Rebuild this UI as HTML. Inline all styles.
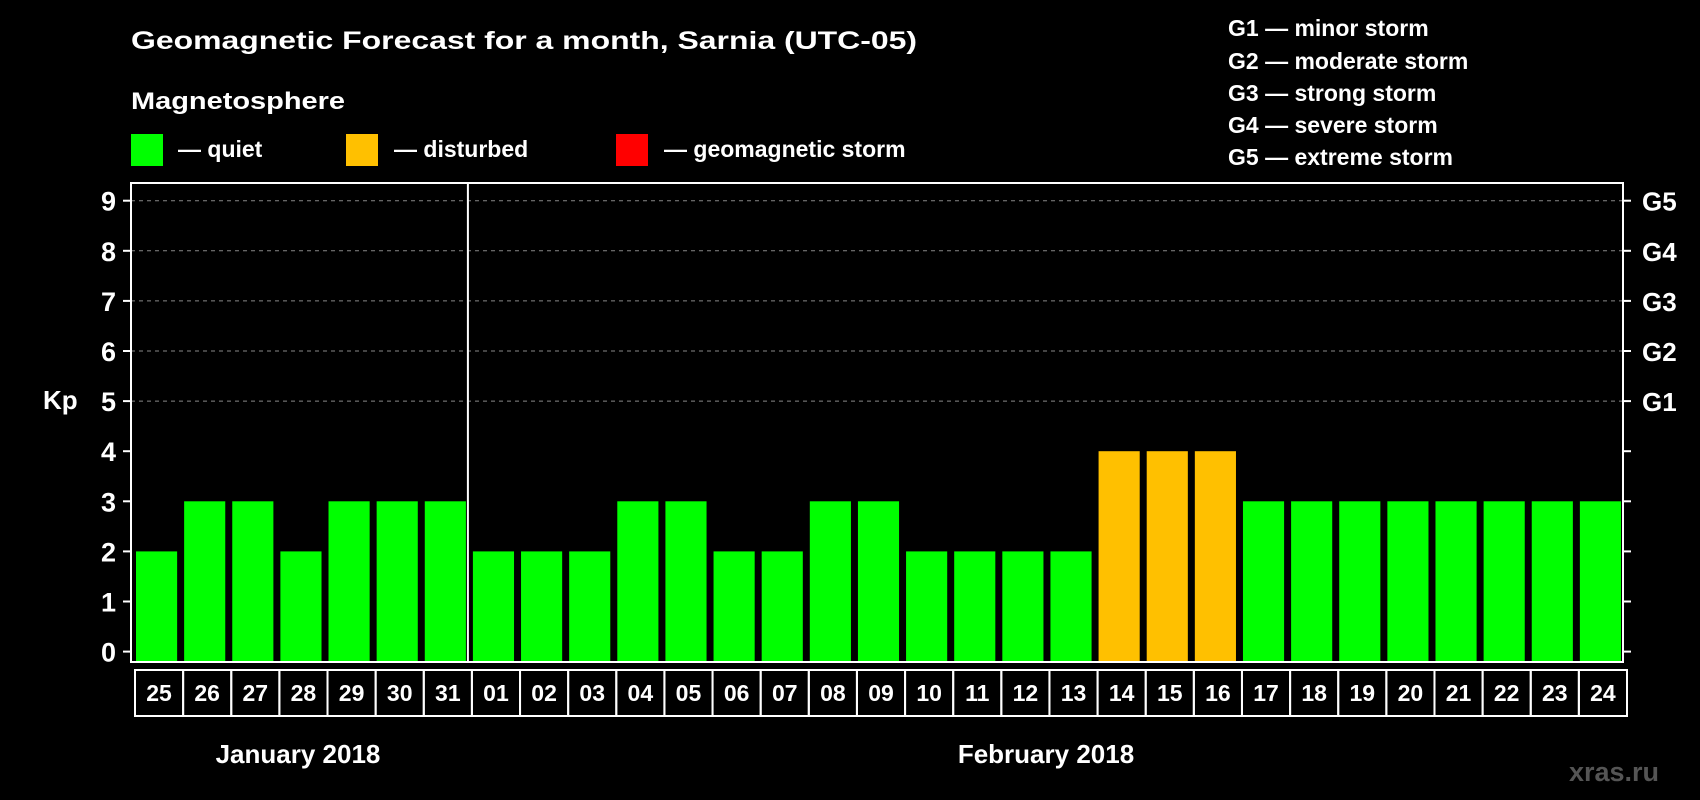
<!DOCTYPE html>
<html><head><meta charset="utf-8"><style>
html,body{margin:0;padding:0;background:#000;}
svg{display:block;font-family:"Liberation Sans",Arial,sans-serif;font-weight:bold;}
</style></head><body>
<svg id="chart" width="1700" height="800" viewBox="0 0 1700 800">
<rect x="0" y="0" width="1700" height="800" fill="#000"/>
<text x="131" y="49" fill="#fff" font-size="25" textLength="786" lengthAdjust="spacingAndGlyphs">Geomagnetic Forecast for a month, Sarnia (UTC-05)</text>
<text x="131" y="109" fill="#fff" font-size="24" textLength="214" lengthAdjust="spacingAndGlyphs">Magnetosphere</text>
<g><rect x="131" y="134" width="32" height="32" fill="#00ff00"/><text x="178" y="157" fill="#fff" font-size="23">— quiet</text></g>
<g><rect x="346" y="134" width="32" height="32" fill="#ffc000"/><text x="394" y="157" fill="#fff" font-size="23">— disturbed</text></g>
<g><rect x="616" y="134" width="32" height="32" fill="#ff0000"/><text x="664" y="157" fill="#fff" font-size="23">— geomagnetic storm</text></g>
<g fill="#fff" font-size="23">
<text x="1228" y="36">G1 — minor storm</text>
<text x="1228" y="69">G2 — moderate storm</text>
<text x="1228" y="101">G3 — strong storm</text>
<text x="1228" y="133">G4 — severe storm</text>
<text x="1228" y="165">G5 — extreme storm</text>
</g>
<text x="43" y="409" fill="#fff" font-size="26">Kp</text>
<text x="298" y="763" fill="#fff" font-size="26" text-anchor="middle">January 2018</text>
<text x="1046" y="763" fill="#fff" font-size="26" text-anchor="middle">February 2018</text>
<text x="1659" y="781" fill="#555" font-size="27" text-anchor="end">xras.ru</text>
<g id="grid"></g><g id="bars"></g><g id="axes"></g>
</svg>
<script>
const days = ["25","26","27","28","29","30","31","01","02","03","04","05","06","07","08","09","10","11","12","13","14","15","16","17","18","19","20","21","22","23","24"];
const kp = [2,3,3,2,3,3,3,2,2,2,3,3,2,2,3,3,2,2,2,2,4,4,4,3,3,3,3,3,3,3,3];
const yTicks = [0,1,2,3,4,5,6,7,8,9];
const gLabels = ["G1","G2","G3","G4","G5"];
const gLevels = [5,6,7,8,9];
const monthBreak = 7;

const NS = "http://www.w3.org/2000/svg";
const L = 131, R = 1623, T = 183, B = 662;
const slot = (R - L) / days.length;
const y = v => 651.6 - v * 50.1;
const x = i => L + i * slot;
function mk(tag, attrs, parent) {
  const e = document.createElementNS(NS, tag);
  for (const k in attrs) e.setAttribute(k, attrs[k]);
  parent.appendChild(e);
  return e;
}
const grid = document.getElementById("grid"), bars = document.getElementById("bars"), axes = document.getElementById("axes");
gLevels.forEach((g, i) => {
  const ln = mk("line", {x1: L, x2: R, y1: y(g), y2: y(g), stroke: "#888", "stroke-dasharray": "4,4", "stroke-width": 1}, grid);
  
  
  const t = mk("text", {x: 1642, y: y(g) + 10, fill: "#fff", "font-size": 26}, axes);
  t.textContent = gLabels[i];
  
  
});
kp.forEach((v, i) => {
  const r = mk("rect", {x: x(i) + 5, y: y(v), width: slot - 7, height: B - y(v), fill: v >= 5 ? "#ff0000" : v >= 4 ? "#ffc000" : "#00ff00"}, bars);
  
  
  const bx = mk("rect", {x: x(i) + 4, y: 670, width: slot, height: 46, fill: "none", stroke: "#fff", "stroke-width": 2}, axes);
  
  
  const t = mk("text", {x: x(i) + 4 + slot / 2, y: 701, fill: "#fff", "font-size": 23, "text-anchor": "middle"}, axes);
  t.textContent = days[i];
  
  
});
const frame = mk("rect", {x: L, y: T, width: R - L, height: B - T, fill: "none", stroke: "#fff", "stroke-width": 2}, axes);


const div = mk("line", {x1: x(monthBreak), x2: x(monthBreak), y1: T, y2: B, stroke: "#fff", "stroke-width": 2}, axes);


yTicks.forEach(v => {
  const tk = mk("line", {x1: L - 8, x2: L, y1: y(v), y2: y(v), stroke: "#fff", "stroke-width": 2}, axes);
  
  
  const tk2 = mk("line", {x1: R, x2: R + 8, y1: y(v), y2: y(v), stroke: "#fff", "stroke-width": 2}, axes);
  
  
  const t = mk("text", {x: 116, y: y(v) + 10, fill: "#fff", "font-size": 27, "text-anchor": "end"}, axes);
  t.textContent = v;
  
  
});
</script>
</body></html>
